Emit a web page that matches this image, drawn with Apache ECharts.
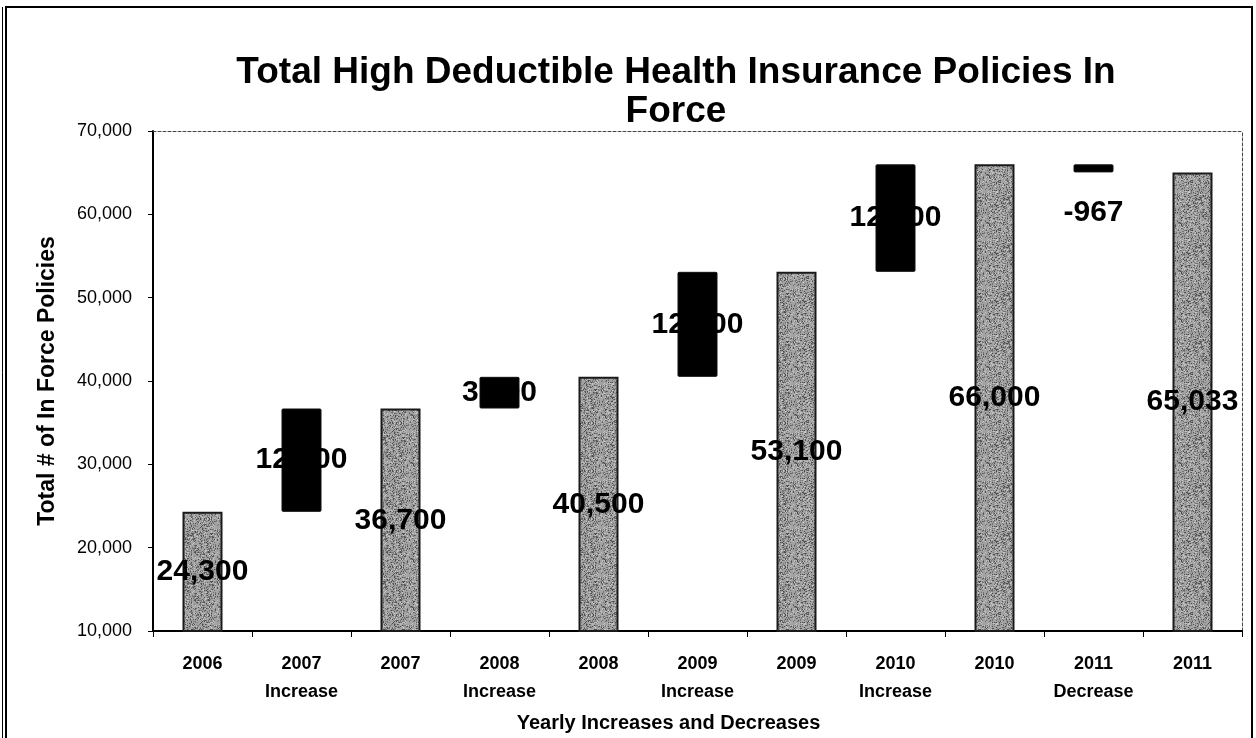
<!DOCTYPE html>
<html>
<head>
<meta charset="utf-8">
<title>Total High Deductible Health Insurance Policies In Force</title>
<script src="https://cdn.jsdelivr.net/npm/echarts@6/dist/echarts.min.js"></script>
<style>
  html, body { margin: 0; padding: 0; background: #fff; }
  #chart { width: 1256px; height: 738px; }
</style>
</head>
<body>
<div id="chart"></div>
<script>
// Waterfall categories: yearly totals alternate with the change that leads to the next total
const categories = [
  '2006', '2007\nIncrease', '2007', '2008\nIncrease', '2008',
  '2009\nIncrease', '2009', '2010\nIncrease', '2010', '2011\nDecrease', '2011'
];
// Policies in force at year end
const totals = [24300, null, 36700, null, 40500, null, 53100, null, 66000, null, 65033];
// Year-over-year change
const changes = [null, 12400, null, 3800, null, 12600, null, 12900, null, -967, null];
// Value axis ticks
const yMin = 10000, yMax = 70000, yStep = 10000;

const FONT = '"Liberation Sans", Arial, sans-serif';

// Floating-bar offsets: each change hangs from the running total
const base = [];
let running = 0;
for (let i = 0; i < categories.length; i++) {
  if (totals[i] != null) {
    running = totals[i];
    base.push('-');
  } else {
    const c = changes[i];
    base.push(c >= 0 ? running : running + c);
    running += c;
  }
}
const changeBars = changes.map(c => (c == null ? '-' : Math.abs(c)));
const totalBars = totals.map(v => (v == null ? '-' : v));

// Speckled grey fill for the total columns
function speckle() {
  const size = 48;
  const cv = document.createElement('canvas');
  cv.width = size; cv.height = size;
  const ctx = cv.getContext('2d');
  ctx.fillStyle = '#a2a2a2';
  ctx.fillRect(0, 0, size, size);
  for (let y = 0; y < size; y++) {
    for (let x = 0; x < size; x++) {
      const h = Math.abs(Math.sin(x * 12.9898 + y * 78.233) * 43758.5453) % 1;
      if (h < 0.3) {
        ctx.fillStyle = h < 0.1 ? '#4e4e4e' : '#767676';
        ctx.fillRect(x, y, 1, 1);
      } else if (h > 0.88) {
        ctx.fillStyle = '#c4c4c4';
        ctx.fillRect(x, y, 1, 1);
      }
    }
  }
  return cv;
}

const fmt = v => Number(v).toLocaleString('en-US');

const labelStyle = {
  show: true,
  position: 'inside',
  color: '#000',
  fontFamily: FONT,
  fontWeight: 'bold',
  fontSize: 30
};

const chart = echarts.init(document.getElementById('chart'), null, { renderer: 'canvas' });

chart.setOption({
  animation: false,
  backgroundColor: '#fff',
  title: {
    text: 'Total High Deductible Health Insurance Policies In\nForce',
    left: 671,
    top: 48,
    textAlign: 'center',
    textStyle: {
      fontFamily: FONT,
      fontWeight: 'bold',
      fontSize: 37,
      lineHeight: 39,
      color: '#000'
    }
  },
  graphic: [
    { type: 'rect', shape: { x: 6, y: 7, width: 1246, height: 740 },
      style: { fill: null, stroke: '#000', lineWidth: 2 }, silent: true },
    { type: 'line', shape: { x1: 2.5, y1: 7, x2: 2.5, y2: 738 },
      style: { stroke: '#000', lineWidth: 1 }, silent: true }
  ],
  grid: { left: 153, right: 14, top: 131, bottom: 103 },
  xAxis: [
    {
      type: 'category',
      data: categories,
      name: 'Yearly Increases and Decreases',
      nameLocation: 'middle',
      nameGap: 82,
      nameTextStyle: {
        fontFamily: FONT, fontWeight: 'bold', fontSize: 20, color: '#000',
        padding: [0, 58, 0, 0]
      },
      axisLine: { lineStyle: { color: '#000', width: 2 } },
      axisTick: { show: true, length: 6, lineStyle: { color: '#000', width: 1 } },
      axisLabel: {
        fontFamily: FONT, fontWeight: 'bold', fontSize: 18, color: '#000',
        lineHeight: 28, margin: 19, interval: 0
      }
    },
    {
      type: 'category',
      data: categories,
      position: 'top',
      axisLine: { lineStyle: { color: '#444', width: 1, type: [3, 2] } },
      axisTick: { show: false },
      axisLabel: { show: false }
    }
  ],
  yAxis: [
    {
      type: 'value',
      min: yMin,
      max: yMax,
      interval: yStep,
      name: 'Total # of In Force Policies',
      nameLocation: 'middle',
      nameGap: 94,
      nameTextStyle: { fontFamily: FONT, fontWeight: 'bold', fontSize: 23, color: '#000' },
      axisLine: { show: true, lineStyle: { color: '#000', width: 2 } },
      axisTick: { show: true, length: 5, lineStyle: { color: '#000' } },
      splitLine: { show: false },
      axisLabel: {
        fontFamily: FONT, fontSize: 18, color: '#000', margin: 21,
        formatter: v => fmt(v)
      }
    },
    {
      type: 'value',
      min: yMin,
      max: yMax,
      interval: yStep,
      position: 'right',
      axisLine: { show: true, lineStyle: { color: '#444', width: 1, type: [3, 2] } },
      axisTick: { show: false },
      axisLabel: { show: false },
      splitLine: { show: false }
    }
  ],
  series: [
    {
      name: 'offset',
      type: 'bar',
      stack: 'flow',
      barWidth: 40,
      silent: true,
      itemStyle: { color: 'transparent', borderWidth: 0 },
      label: { show: false },
      emphasis: { disabled: true },
      data: base
    },
    {
      name: 'Change',
      type: 'bar',
      stack: 'flow',
      barWidth: 40,
      itemStyle: { color: '#000', borderColor: '#111', borderWidth: 1, borderRadius: 1 },
      label: Object.assign({}, labelStyle, {
        formatter: p => fmt(changes[p.dataIndex])
      }),
      data: changeBars.map((v, i) =>
        changes[i] != null && changes[i] < 0
          ? { value: v, label: { position: 'bottom', distance: 25 } }
          : v)
    },
    {
      name: 'Total',
      type: 'bar',
      stack: 'flow',
      barWidth: 40,
      itemStyle: {
        color: { image: speckle(), repeat: 'repeat' },
        borderColor: '#1a1a1a',
        borderWidth: 2
      },
      label: Object.assign({}, labelStyle, {
        formatter: p => fmt(totals[p.dataIndex])
      }),
      data: totalBars
    }
  ]
});
</script>
</body>
</html>
